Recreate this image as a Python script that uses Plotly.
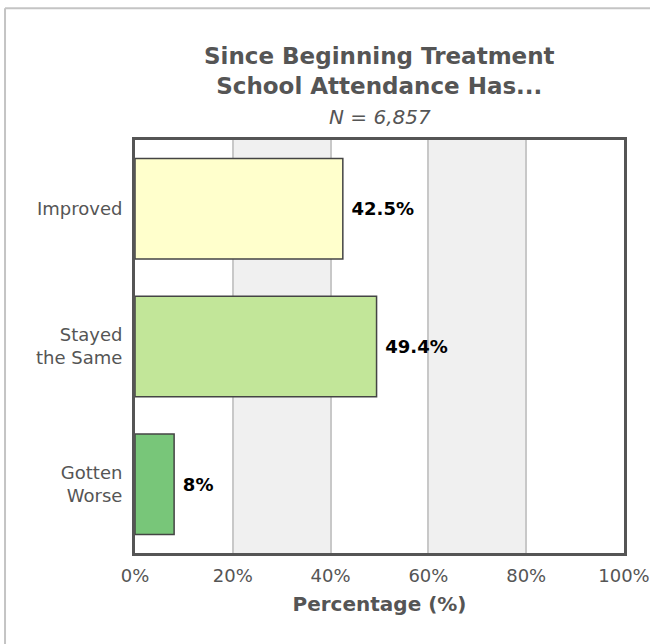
import plotly.graph_objects as go

categories = ["Improved", "Stayed<br>the Same", "Gotten<br>Worse"]
percentages = [42.5, 49.4, 8]
bar_colors = ["#ffffcc", "#c2e699", "#78c679"]
x_ticks = [0, 20, 40, 60, 80, 100]
x_tick_labels = ["0%", "20%", "40%", "60%", "80%", "100%"]

FONT = "DejaVu Sans, Verdana, sans-serif"
GREY = "#555555"

fig = go.Figure(go.Bar(
    x=percentages,
    y=categories,
    orientation="h",
    marker=dict(color=bar_colors, line=dict(color="#444444", width=1.5)),
    text=percentages,
    texttemplate="\u00a0<b>%{x}%</b>",
    textposition="outside",
    textfont=dict(family=FONT, size=18, color="black"),
    cliponaxis=False,
    hoverinfo="skip",
))

# alternating background bands
for x0, x1 in [(20, 40), (60, 80)]:
    fig.add_shape(type="rect", xref="x", yref="paper", x0=x0, x1=x1, y0=0, y1=1,
                  fillcolor="#f0f0f0", line_width=0, layer="below")

# outer light frame (only top and left edges are visible in the window)
fig.add_shape(type="line", xref="paper", yref="paper", x0=-0.2658, x1=1.2, y0=1.319, y1=1.319,
              line=dict(color="#c4c4c4", width=2))
fig.add_shape(type="line", xref="paper", yref="paper", x0=-0.2658, x1=-0.2658, y0=1.319, y1=-0.3,
              line=dict(color="#c4c4c4", width=2))

fig.add_annotation(text="<b>Since Beginning Treatment<br>School Attendance Has...</b>",
                   xref="paper", yref="paper", x=0.5, y=1.166, showarrow=False,
                   font=dict(family=FONT, size=23, color=GREY), yanchor="middle")
fig.add_annotation(text="<i>N = 6,857</i>", xref="paper", yref="paper", x=0.5, y=1.056,
                   showarrow=False, font=dict(family=FONT, size=20, color=GREY), yanchor="middle")

fig.update_layout(
    width=650, height=644,
    margin=dict(l=135, r=26, t=140, b=91),
    plot_bgcolor="white", paper_bgcolor="white",
    bargap=0.27,
    showlegend=False,
    font=dict(family=FONT, color=GREY),
    xaxis=dict(range=[0, 100], tickvals=x_ticks, ticktext=x_tick_labels,
               showgrid=True, gridcolor="#c8c8c8", gridwidth=1.5, zeroline=False,
               showline=True, mirror=True, linecolor=GREY, linewidth=3,
               tickfont=dict(size=18, color=GREY), ticklabelstandoff=4,
               ticklabeloverflow="allow", automargin=False,
               title=dict(text="<b>Percentage (%)</b>", font=dict(size=20, color=GREY), standoff=13)),
    yaxis=dict(autorange="reversed", showgrid=False, zeroline=False,
               showline=True, mirror=True, linecolor=GREY, linewidth=3,
               tickfont=dict(size=18, color=GREY), ticklabelstandoff=6),
)

# drop the default page margin so the 650x644 figure fills the window
fig.write_html("out.html", config={"displayModeBar": False},
               post_script="document.body.style.margin = '0';")
